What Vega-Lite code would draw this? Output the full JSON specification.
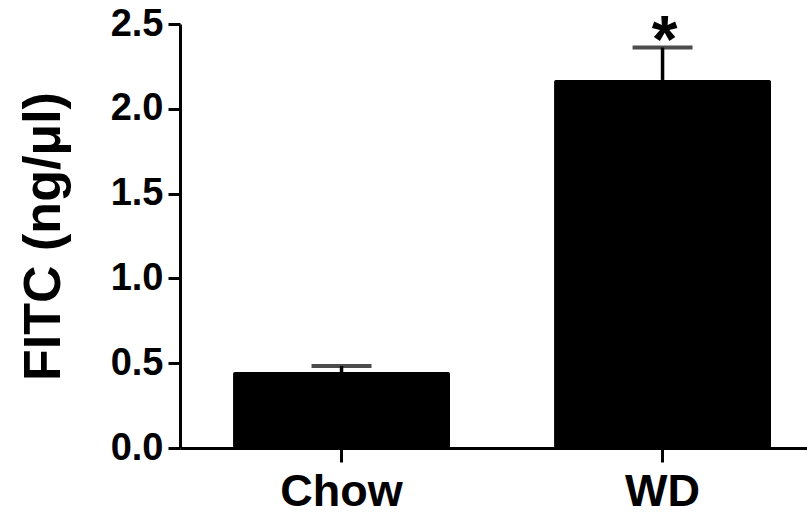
{
  "$schema": "https://vega.github.io/schema/vega-lite/v6.json",
  "autosize": {"type": "none"},
  "padding": {"left": 180, "top": 24, "right": 0, "bottom": 67},
  "width": 627,
  "height": 424,
  "background": "white",
  "config": {
    "view": {"stroke": null},
    "font": "Liberation Sans"
  },
  "data": {
    "values": [
      {"group": "Chow", "mean": 0.448, "upper": 0.483, "sig": ""},
      {"group": "WD", "mean": 2.17, "upper": 2.361, "sig": "*"}
    ]
  },
  "encoding": {
    "x": {
      "field": "group",
      "type": "nominal",
      "sort": ["Chow", "WD"],
      "scale": {"paddingInner": 0.324, "paddingOuter": 0.1386, "align": 0.596},
      "axis": {
        "title": null,
        "labelAngle": 0,
        "labelFont": "Liberation Sans",
        "labelFontWeight": "bold",
        "labelFontSize": 45,
        "labelColor": "black",
        "labelBaseline": "alphabetic",
        "labelPadding": 43,
        "domainColor": "black",
        "domainWidth": 3,
        "tickColor": "black",
        "tickWidth": 3,
        "tickSize": 14
      }
    }
  },
  "layer": [
    {
      "mark": {"type": "bar", "color": "black", "cornerRadius": 2},
      "encoding": {
        "y": {
          "field": "mean",
          "type": "quantitative",
          "scale": {"domain": [0, 2.5], "nice": false},
          "axis": {
            "title": "FITC (ng/μl)",
            "values": [0, 0.5, 1, 1.5, 2, 2.5],
            "format": ".1f",
            "grid": false,
            "labelFont": "Liberation Sans",
            "labelFontWeight": "bold",
            "labelFontSize": 38,
            "labelColor": "black",
            "labelPadding": 5,
            "domainColor": "black",
            "domainWidth": 3,
            "tickColor": "black",
            "tickWidth": 3,
            "tickSize": 12,
            "titleFont": "Liberation Sans",
            "titleFontWeight": "bold",
            "titleFontSize": 52,
            "titleColor": "black",
            "titleAngle": -90,
            "titleBaseline": "alphabetic",
            "titleAlign": "center",
            "titleX": -121,
            "titleY": 212
          }
        }
      }
    },
    {
      "mark": {"type": "rule", "color": "black", "strokeWidth": 3.5},
      "encoding": {
        "y": {"field": "mean", "type": "quantitative"},
        "y2": {"field": "upper"}
      }
    },
    {
      "mark": {"type": "tick", "color": "black", "thickness": 4, "size": 60, "orient": "horizontal"},
      "encoding": {
        "y": {"field": "upper", "type": "quantitative"}
      }
    },
    {
      "mark": {"type": "text", "color": "black", "fontSize": 66, "fontWeight": "bold", "font": "Liberation Sans", "baseline": "alphabetic", "dy": 14, "dx": 2},
      "encoding": {
        "y": {"field": "upper", "type": "quantitative"},
        "text": {"field": "sig"}
      }
    }
  ]
}
